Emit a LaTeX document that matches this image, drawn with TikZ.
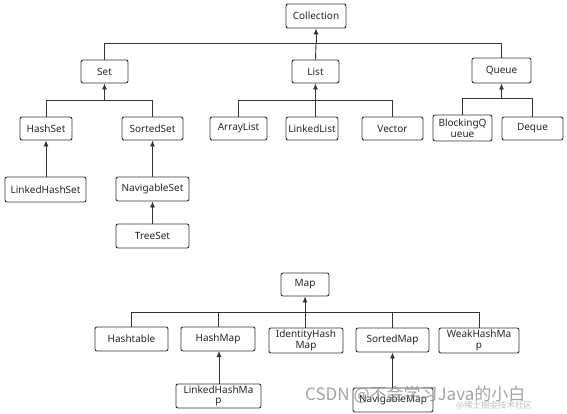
\documentclass[tikz,border=0pt]{standalone}
\usepackage{fontspec}
\setmainfont{Noto Sans}
\newfontfamily\cjk{Noto Sans CJK SC}
\usetikzlibrary{arrows.meta}
\begin{document}
\begin{tikzpicture}[x=1pt,y=-1pt,
  cls/.style={draw=black!80,line width=0.9pt,rounded corners=2pt,fill=white,inner sep=0pt,
    font=\fontsize{10}{10.5}\selectfont,text=black!85,align=center},
  link/.style={draw=black!80,line width=0.9pt},
  arr/.style={link,-{Latex[length=6pt,width=5pt]}}]
\useasboundingbox (0,0) rectangle (567,413);
\def\bx(#1,#2,#3,#4)#5#6{\node[cls,minimum width=#3-#1,minimum height=#4-#2] (#5) at ({(#1+#3)/2},{(#2+#4)/2}) {#6};}
% Collection hierarchy
\bx(286,4,346,28){coll}{Collection}
\bx(81,60,128,83){set}{Set}
\bx(292,60,339,83){list}{List}
\bx(472,58,531,83){queue}{Queue}
\bx(20,117,72,140){hashset}{HashSet}
\bx(122,117,183,140){sortedset}{SortedSet}
\bx(5,177,86,202){lhs}{LinkedHashSet}
\bx(116,177,189,201){navset}{NavigableSet}
\bx(116,224,189,248){treeset}{TreeSet}
\bx(210,117,267,140){arraylist}{ArrayList}
\bx(286,117,338,140){linkedlist}{LinkedList}
\bx(362,117,423,140){vector}{Vector}
\bx(433,115,492,141){bq}{BlockingQ\\ueue}
\bx(502,117,563,140){deque}{Deque}
% Map hierarchy
\bx(281,273,329,296){map}{Map}
\bx(95,327,168,351){hashtable}{Hashtable}
\bx(181,327,255,351){hashmap}{HashMap}
\bx(269,328,343,353){ihm}{IdentityHash\\Map}
\bx(356,328,429,352){sortedmap}{SortedMap}
\bx(439,328,519,353){whm}{WeakHashMa\\p}
\bx(176,384,261,408){lhm}{LinkedHashMa\\p}
\bx(353,388,433,412){navmap}{NavigableMap}
% junctions
\coordinate (j1) at (coll.south |- 0,43);
\coordinate (j2) at (set.south |- 0,100);
\coordinate (j3) at (list.south |- 0,100);
\coordinate (j4) at (queue.south |- 0,98);
\coordinate (j5) at (map.south |- 0,312);
% connectors
\draw[arr] (j1) -- (coll.south);
\draw[link] (set.north) |- (j1);
\draw[link] (list.north) -- (j1);
\draw[link] (queue.north) |- (j1);
\draw[arr] (j2) -- (set.south);
\draw[link] (hashset.north) |- (j2);
\draw[link] (sortedset.north) |- (j2);
\draw[arr] (lhs.north -| hashset.south) -- (hashset.south);
\draw[arr] (navset.north -| sortedset.south) -- (sortedset.south);
\draw[arr] (treeset.north) -- (navset.south);
\draw[arr] (j3) -- (list.south);
\draw[link] (arraylist.north) |- (j3);
\draw[link] (linkedlist.north -| j3) -- (j3);
\draw[link] (vector.north) |- (j3);
\draw[arr] (j4) -- (queue.south);
\draw[link] (bq.north) |- (j4);
\draw[link] (deque.north) |- (j4);
\draw[arr] (j5) -- (map.south);
\draw[link] (hashtable.north) |- (j5);
\draw[link] (hashmap.north) |- (j5);
\draw[link] (ihm.north -| j5) -- (j5);
\draw[link] (sortedmap.north) |- (j5);
\draw[link] (whm.north) |- (j5);
\draw[arr] (lhm.north -| 219,0) -- (219,351);
\draw[arr] (navmap.north -| sortedmap.south) -- (sortedmap.south);
% watermark
\node[anchor=base west,inner sep=0pt,text=black!45,opacity=0.8,font=\cjk\fontsize{17}{17}\selectfont] (wm) at (305,400) {CSDN @不会学习Java的小白};
\node[anchor=base west,inner sep=0pt,text=black!25,font=\cjk\fontsize{8.5}{8.5}\selectfont] (wm2) at (456,408) {@稀土掘金技术社区};
\end{tikzpicture}
\end{document}
